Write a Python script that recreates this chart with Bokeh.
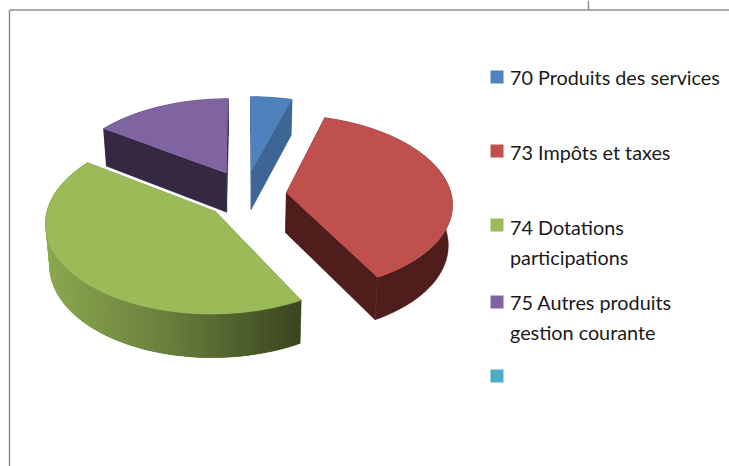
import math
from bokeh.plotting import figure
from bokeh.models import Range1d
from bokeh.core.properties import value
from bokeh.embed import file_html
from bokeh.resources import INLINE

# --- data
categories = ["70 Produits des services", "73 Impôts et taxes",
              "74 Dotations\nparticipations", "75 Autres produits\ngestion courante", ""]
values = [4.6, 37.5, 42.6, 15.3, 0.0]
top_colors = ["#4f81bd", "#c0504d", "#9bbb59", "#8064a2", "#4bacc6"]
side_colors = ["#3d6694", "#4f1d1c", None, "#352841", "#2f7f95"]
draw_order = [3, 0, 1, 2]

# --- 3D projection of the exploded pie
CX, CY, AX, BY, K = 245.0, 195.0, 165.0, 87.2, 0.112
explode_x = [0.25, 0.25, 0.24, 0.26, 0.25]
explode_y = [0.30, 0.30, 0.27, 0.30, 0.30]
FONT = "Lato"
FONT_SIZE = "19.8px"

def proj(X, Y, bottom=False):
    w = 1 + K * Y
    sx = CX + AX * X / w
    sy = CY - BY * Y / w
    if bottom:
        sx = CX + (sx - CX) * 0.98
        sy += 40 - 3 * Y
    return sx, sy

def lerp_color(t):
    stops = [(0.0, (140, 170, 80)), (0.5, (105, 125, 60)), (1.0, (58, 70, 32))]
    for (t0, c0), (t1, c1) in zip(stops, stops[1:]):
        if t <= t1:
            f = (t - t0) / (t1 - t0)
            return "#%02x%02x%02x" % tuple(int(a + (b - a) * f) for a, b in zip(c0, c1))
    return "#3a4620"

p = figure(width=729, height=466, output_backend="svg", toolbar_location=None,
           x_range=Range1d(0, 729), y_range=Range1d(466, 0),
           min_border=0, outline_line_color=None,
           background_fill_color="white", border_fill_color="white")
p.axis.visible = False
p.grid.visible = False

# frame of the sheet
p.segment([9, 9, 588], [9.5, 9.5, 0], [729, 9, 588], [9.5, 466, 9], line_color="#8e8e8e", line_width=1.5)

total = sum(values)
starts = []
acc = 0.0
for v in values:
    starts.append(acc)
    acc += v / total * 360

for i in draw_order:
    a0, a1 = starts[i], starts[i] + values[i] / total * 360
    mid = math.radians((a0 + a1) / 2)
    ox, oy = explode_x[i] * math.sin(mid), explode_y[i] * math.cos(mid)
    n = max(2, int((a1 - a0) / 1.5))
    angs = [math.radians(a0 + (a1 - a0) * j / n) for j in range(n + 1)]
    rim = [(ox + math.sin(t), oy + math.cos(t)) for t in angs]

    top = [proj(*q) for q in [(ox, oy)] + rim]
    bot = [proj(*q, bottom=True) for q in [(ox, oy)] + rim]

    side = side_colors[i] or "#6a7d3c"
    # radial walls
    for idx in (1, n + 1):
        xs = [top[0][0], top[idx][0], bot[idx][0], bot[0][0]]
        ys = [top[0][1], top[idx][1], bot[idx][1], bot[0][1]]
        p.patch(xs, ys, fill_color=side, line_color=side, line_width=0.5)
    # rim wall: one solid outline, then overlapping gradient strips where needed
    xs = [q[0] for q in top[1:]] + [q[0] for q in bot[:0:-1]]
    ys = [q[1] for q in top[1:]] + [q[1] for q in bot[:0:-1]]
    p.patch(xs, ys, fill_color=side, line_color=side, line_width=0.5)
    if side_colors[i] is None:
        for j in range(1, n + 1):
            c = lerp_color(min(1, max(0, (top[j][0] - 44) / 258)))
            e = min(j + 2, n + 1)
            p.patch([top[j][0], top[e][0], bot[e][0], bot[j][0]],
                    [top[j][1], top[e][1], bot[e][1], bot[j][1]],
                    fill_color=c, line_color=None)
    # top face
    p.patch([q[0] for q in top], [q[1] for q in top], fill_color=top_colors[i],
            line_color=top_colors[i], line_width=0.5)

# legend
key_tops = [70, 144, 218, 295, 369]
baselines = [76.5, 151, 226, 301, 0]
line_step = 30
for i, name in enumerate(categories):
    p.quad(left=[490], right=[503], top=[key_tops[i]], bottom=[key_tops[i] + 13],
           fill_color=top_colors[i], line_color=None)
    if name:
        for k, line in enumerate(name.split("\n")):
            p.text([509.5], [baselines[i] + k * line_step], text=[line], text_font=value(FONT),
                   text_font_size=FONT_SIZE, text_color="#1a1a1a", text_baseline="alphabetic")

open("out.html", "w").write(file_html(p, INLINE))
